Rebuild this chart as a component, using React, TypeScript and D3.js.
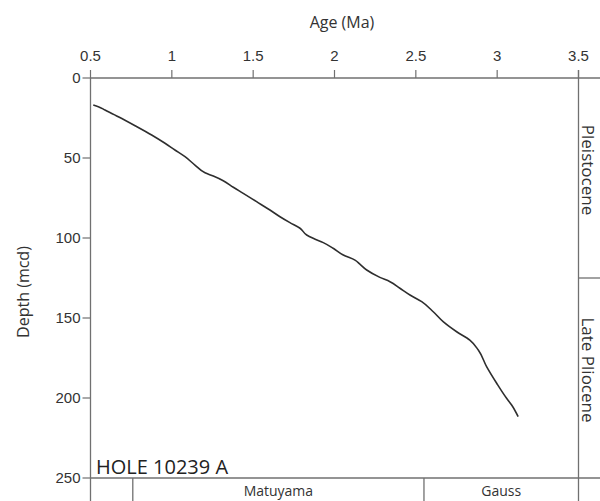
import React from "react";
import * as d3 from "d3";

// Age–depth model for the hole
const ageMa = [
  0.517, 0.548, 0.589, 0.671, 0.774, 0.876, 0.958, 1.019, 1.081, 1.142,
  1.204, 1.255, 1.316, 1.378, 1.439, 1.521, 1.603, 1.665, 1.726, 1.788,
  1.829, 1.869, 1.931, 1.992, 2.054, 2.126, 2.156, 2.198, 2.279, 2.341,
  2.402, 2.464, 2.536, 2.607, 2.668, 2.751, 2.832, 2.884, 2.935, 2.997,
  3.058, 3.089, 3.129,
];
const depthMcd = [
  16.9, 17.9, 20.0, 24.2, 29.8, 35.6, 40.8, 45.0, 49.2, 54.4,
  59.2, 61.3, 64.2, 68.3, 72.1, 77.3, 82.5, 86.7, 90.4, 93.9,
  98.1, 100.2, 102.9, 106.4, 110.6, 113.8, 116.3, 120.0, 124.6, 127.3,
  131.4, 135.6, 139.8, 146.1, 152.3, 158.6, 163.8, 170.0, 180.4, 190.8,
  200.2, 204.4, 211.7,
];

const ageTicks = [0.5, 1, 1.5, 2, 2.5, 3, 3.5];
const depthTicks = [0, 50, 100, 150, 200, 250];

// Magnetic chrons along the age axis
const chronNames = ["", "Matuyama", "Gauss"];
const chronStarts = [0.5, 0.76, 2.55];
const chronEnds = [0.76, 2.55, 3.5];

// Epochs along the depth axis
const epochNames = ["Pleistocene", "Late Pliocene"];
const epochTop = [0, 125];
const epochBottom = [125, 250];

const holeLabel = "HOLE 10239 A";

const W = 600;
const H = 501;
const left = 90.5;
const right = 578.5;
const top = 78;
const bottom = 478;

const axisColor = "#707070";
const textColor = "#333";
const sansFont = "'Open Sans', sans-serif";
const tickFont = "'Liberation Sans', Arial, sans-serif";

export default function App() {
  const x = d3.scaleLinear().domain([0.5, 3.5]).range([left, right]);
  const y = d3.scaleLinear().domain([0, 250]).range([top, bottom]);

  const points = ageMa.map((a, i) => [a, depthMcd[i]] as [number, number]);
  const line = d3
    .line<[number, number]>()
    .x((d) => x(d[0]))
    .y((d) => y(d[1]))
    .curve(d3.curveMonotoneY);

  return (
    <svg
      width={W}
      height={H}
      style={{ position: "absolute", left: 0, top: 0, background: "#fff" }}
    >
      <rect width={W} height={H} fill="#fff" />

      {/* x axis title */}
      <text
        x={342}
        y={28}
        textAnchor="middle"
        fontFamily={sansFont}
        fontSize={16}
        fill={textColor}
      >
        Age (Ma)
      </text>

      {/* top age axis */}
      {ageTicks.map((t) => (
        <g key={"xt" + t}>
          <line x1={x(t)} x2={x(t)} y1={top - 8} y2={top} stroke={axisColor} strokeWidth={1.2} />
          <text
            x={x(t)}
            y={top - 17}
            textAnchor="middle"
            fontFamily={tickFont}
            fontSize={15}
            fill={textColor}
          >
            {String(t)}
          </text>
        </g>
      ))}

      {/* left depth axis */}
      {depthTicks.map((t) => (
        <g key={"yt" + t}>
          <line x1={left - 8} x2={left} y1={y(t)} y2={y(t)} stroke={axisColor} strokeWidth={1.2} />
          <text
            x={left - 10}
            y={y(t)}
            dy="0.36em"
            textAnchor="end"
            fontFamily={tickFont}
            fontSize={15}
            fill={textColor}
          >
            {String(t)}
          </text>
        </g>
      ))}

      <text
        transform={`translate(29, ${(top + bottom) / 2 + 14}) rotate(-90)`}
        textAnchor="middle"
        fontFamily={sansFont}
        fontSize={16}
        fill={textColor}
      >
        Depth (mcd)
      </text>

      {/* frame */}
      <line x1={left} x2={W} y1={y(0)} y2={y(0)} stroke={axisColor} strokeWidth={1.3} />
      <line x1={left} x2={W} y1={y(250)} y2={y(250)} stroke={axisColor} strokeWidth={1.3} />
      <line x1={left} x2={left} y1={y(0)} y2={H} stroke={axisColor} strokeWidth={1.3} />
      <line x1={x(3.5)} x2={x(3.5)} y1={top - 8} y2={H} stroke={axisColor} strokeWidth={1.3} />

      {/* epoch column */}
      {epochNames.map((name, i) => (
        <g key={name}>
          {i > 0 && (
            <line
              x1={x(3.5)}
              x2={W}
              y1={y(epochTop[i])}
              y2={y(epochTop[i])}
              stroke={axisColor}
              strokeWidth={1.3}
            />
          )}
          <text
            transform={`translate(581.5, ${(y(epochTop[i]) + y(epochBottom[i])) / 2 - 8}) rotate(90)`}
            textAnchor="middle"
            fontFamily={sansFont}
            fontSize={17}
            fill={textColor}
          >
            {name}
          </text>
        </g>
      ))}

      {/* chron strip */}
      {chronNames.map((name, i) => (
        <g key={"c" + i}>
          {i > 0 && (
            <line
              x1={x(chronStarts[i])}
              x2={x(chronStarts[i])}
              y1={y(250)}
              y2={H}
              stroke={axisColor}
              strokeWidth={1.3}
            />
          )}
          {name && (
            <text
              x={(x(chronStarts[i]) + x(chronEnds[i])) / 2}
              y={496}
              textAnchor="middle"
              fontFamily={sansFont}
              fontSize={14}
              fill={textColor}
            >
              {name}
            </text>
          )}
        </g>
      ))}

      {/* age–depth curve */}
      <path d={line(points) ?? ""} fill="none" stroke="#2e2e2e" strokeWidth={1.6} />

      <text
        x={96}
        y={y(250) - 4}
        fontFamily={sansFont}
        fontSize={20}
        fill="#222"
      >
        {holeLabel}
      </text>
    </svg>
  );
}
